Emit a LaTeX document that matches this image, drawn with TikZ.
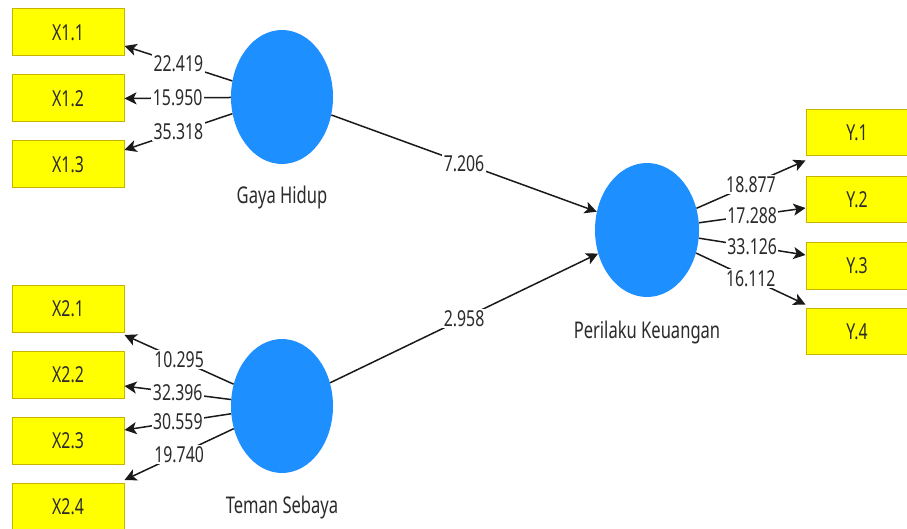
\documentclass[tikz,border=0pt]{standalone}
\usepackage{fontspec}
\setmainfont{Noto Sans}[FakeStretch=0.72]
\usetikzlibrary{shapes.geometric,arrows.meta,calc}
\definecolor{boxy}{HTML}{FFFF00}
\definecolor{boxb}{HTML}{C8B400}
\definecolor{lv}{HTML}{1E8FFF}
\definecolor{tx}{HTML}{2B2B2B}
\definecolor{ln}{HTML}{1A1A1A}
\begin{document}
\begin{tikzpicture}[x=1pt,y=-1pt,
  ind/.style={draw=boxb, fill=boxy, line width=1pt, minimum width=112pt, minimum height=47pt, inner sep=0pt, font=\fontsize{22}{22}\selectfont, text=tx},
  indr/.style={ind, minimum width=102pt, minimum height=46pt},
  lat/.style={ellipse, fill=lv, draw=none, minimum width=102pt, minimum height=134pt, inner sep=0pt},
  lbl/.style={font=\fontsize{23}{23}\selectfont, text=tx, inner sep=0pt},
  arr/.style={line width=1.5pt, draw=ln, -{Stealth[length=12pt,width=12pt,inset=3pt]}},
  num/.style={fill=white, inner sep=1.5pt, font=\fontsize{22}{22}\selectfont, text=tx}
]
\useasboundingbox (0,0) rectangle (907,529);
\clip (0,0) rectangle (907,529);
\fill[white] (0,0) rectangle (907,529);

% indicators left
\node[ind] (x11) at (68,32.5) {X1.1};
\node[ind] (x12) at (68,98.5) {X1.2};
\node[ind] (x13) at (68,164.5) {X1.3};
\node[ind] (x21) at (68,308.5) {X2.1};
\node[ind] (x22) at (68,374.5) {X2.2};
\node[ind] (x23) at (68,440.5) {X2.3};
\node[ind] (x24) at (68,506.5) {X2.4};
% indicators right
\node[indr] (y1) at (857,132.5) {Y.1};
\node[indr] (y2) at (857,199.5) {Y.2};
\node[indr] (y3) at (857,266) {Y.3};
\node[indr] (y4) at (857,331.5) {Y.4};

% latent variables
\node[lat] (g) at (282,97) {};
\node[lat] (t) at (282,406) {};
\node[lat, minimum width=104pt] (p) at (647,230) {};
\node[lbl] (gl) at (282,198) {Gaya Hidup};
\node[lbl] (tl) at (282,508) {Teman Sebaya};
\node[lbl] (pl) at (647,333) {Perilaku Keuangan};

% loadings
\draw[arr] (g) -- node[num]{22.419} ($(x11.east)+(0,13.5)$);
\draw[arr] (g) -- node[num]{15.950} ($(x12.east)+(0,0)$);
\draw[arr] (g) -- node[num]{35.318} ($(x13.east)+(0,-14.5)$);
\draw[arr] (t) -- node[num]{10.295} ($(x21.east)+(0,26.5)$);
\draw[arr] (t) -- node[num]{32.396} ($(x22.east)+(0,11.5)$);
\draw[arr] (t) -- node[num]{30.559} ($(x23.east)+(0,-10.5)$);
\draw[arr] (t) -- node[num]{19.740} ($(x24.east)+(0,-26.5)$);
\draw[arr] (p) -- node[num]{18.877} ($(y1.west)+(0,28)$);
\draw[arr] (p) -- node[num]{17.288} ($(y2.west)+(0,8.5)$);
\draw[arr] (p) -- node[num]{33.126} ($(y3.west)+(0,-11)$);
\draw[arr] (p) -- node[num]{16.112} ($(y4.west)+(0,-27)$);

% paths
\draw[arr] (g) -- node[num]{7.206} (p);
\draw[arr] (t) -- node[num]{2.958} (p);
\end{tikzpicture}
\end{document}
